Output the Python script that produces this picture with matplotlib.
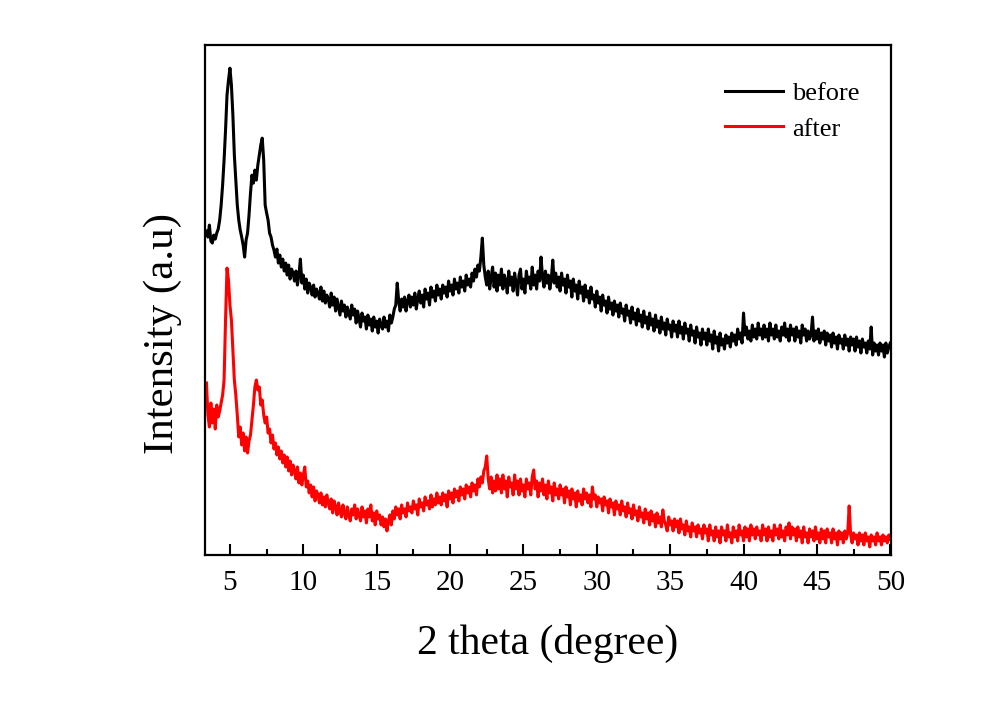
import numpy as np
import matplotlib
matplotlib.use("Agg")
import matplotlib.pyplot as plt

# 2 theta grid: 3.4 .. 50.0 every 0.1 degree (20 values = 2 degrees per row)
start_deg = 3.4
step_deg = 0.1

before = [
    324, 318, 330, 314, 312, 320, 316, 322, 326, 335, 350, 370, 395, 425, 460, 475, 487, 470, 440, 400,  # 3.4
    375, 350, 335, 325, 318, 310, 298, 315, 322, 340, 362, 380, 372, 385, 375, 390, 400, 410, 417, 395,  # 5.4
    350, 342, 335, 322, 318, 310, 305, 298, 306, 292, 300, 288, 296, 284, 292, 280, 290, 276, 286, 282,  # 7.4
    274, 284, 270, 280, 296, 272, 280, 266, 276, 262, 272, 268, 260, 270, 258, 266, 262, 256, 268, 254,  # 9.4
    264, 252, 260, 256, 248, 262, 250, 258, 244, 256, 248, 240, 254, 244, 250, 238, 248, 242, 236, 250,  # 11.4
    240, 246, 232, 244, 236, 228, 242, 234, 238, 226, 240, 230, 236, 224, 238, 228, 234, 222, 236, 230,  # 13.4
    226, 238, 228, 234, 224, 240, 232, 238, 246, 250, 272, 254, 244, 256, 248, 258, 244, 254, 260, 248,  # 15.4
    258, 250, 262, 246, 256, 264, 252, 260, 248, 266, 256, 262, 250, 268, 258, 264, 254, 270, 260, 266,  # 17.4
    256, 270, 262, 268, 258, 274, 264, 270, 260, 276, 266, 272, 262, 278, 268, 274, 264, 280, 270, 276,  # 19.4
    268, 282, 274, 286, 278, 290, 284, 298, 317, 290, 278, 270, 284, 266, 278, 288, 268, 282, 264, 280,  # 21.4
    270, 286, 266, 280, 274, 262, 284, 270, 278, 264, 282, 272, 260, 280, 286, 266, 276, 262, 284, 272,  # 23.4
    278, 266, 288, 270, 280, 266, 284, 274, 298, 278, 268, 284, 272, 280, 266, 276, 295, 272, 282, 268,  # 25.4
    278, 264, 282, 270, 276, 262, 280, 268, 274, 258, 276, 264, 270, 256, 274, 262, 268, 254, 270, 258,  # 27.4
    264, 252, 268, 256, 260, 248, 264, 252, 258, 244, 260, 250, 254, 242, 258, 246, 252, 240, 254, 244,  # 29.4
    250, 238, 252, 242, 246, 234, 250, 240, 244, 232, 248, 236, 242, 230, 246, 234, 240, 228, 244, 232,  # 31.4
    238, 226, 242, 230, 236, 224, 240, 228, 234, 222, 238, 226, 232, 220, 236, 226, 230, 218, 234, 224,  # 33.4
    230, 218, 234, 222, 228, 216, 232, 222, 226, 214, 230, 220, 224, 212, 228, 218, 222, 210, 226, 216,  # 35.4
    222, 210, 226, 214, 220, 206, 224, 212, 218, 204, 222, 210, 216, 206, 220, 212, 218, 208, 222, 214,  # 37.4
    220, 210, 226, 216, 222, 212, 242, 220, 228, 216, 224, 214, 230, 218, 226, 216, 232, 220, 226, 216,  # 39.4
    230, 218, 226, 214, 232, 220, 226, 216, 230, 218, 224, 214, 228, 220, 232, 218, 226, 214, 230, 220,  # 41.4
    226, 214, 228, 218, 224, 212, 230, 220, 226, 214, 224, 216, 220, 238, 214, 224, 216, 226, 212, 222,  # 43.4
    216, 224, 210, 222, 214, 220, 208, 222, 212, 218, 206, 220, 212, 216, 206, 220, 210, 216, 204, 218,  # 45.4
    210, 216, 204, 218, 208, 214, 202, 216, 208, 212, 202, 214, 206, 228, 200, 212, 204, 210, 200, 212,  # 47.4
    204, 210, 198, 212, 202, 208, 212,                                                                  # 49.4
]

after = [
    172, 140, 128, 152, 132, 146, 126, 150, 138, 144, 152, 160, 175, 235, 287, 275, 250, 235, 205, 175,  # 3.4
    160, 140, 118, 128, 110, 122, 104, 118, 102, 114, 120, 135, 150, 168, 175, 165, 168, 150, 155, 140,  # 5.4
    132, 138, 122, 126, 112, 120, 106, 112, 100, 108, 96, 104, 92, 100, 88, 98, 84, 94, 80, 90,          # 7.4
    84, 76, 88, 72, 82, 70, 80, 88, 68, 74, 62, 70, 58, 68, 54, 64, 60, 52, 62, 50,                      # 9.4
    58, 48, 60, 52, 46, 56, 42, 54, 48, 40, 52, 44, 38, 50, 42, 36, 48, 40, 34, 46,                      # 11.4
    40, 50, 36, 46, 40, 34, 48, 38, 44, 32, 46, 38, 50, 34, 42, 30, 44, 36, 40, 30,                      # 13.4
    38, 28, 36, 24, 34, 40, 30, 44, 36, 48, 40, 46, 36, 50, 42, 46, 38, 52, 44, 48,                      # 15.4
    42, 54, 46, 50, 40, 56, 48, 52, 44, 58, 50, 54, 46, 60, 48, 56, 50, 62, 52, 58,                      # 17.4
    50, 62, 54, 60, 48, 64, 56, 62, 52, 66, 58, 64, 54, 68, 60, 66, 56, 70, 62, 68,                      # 19.4
    58, 72, 64, 70, 60, 76, 68, 78, 72, 84, 88, 99, 76, 66, 78, 62, 74, 64, 80, 66,                      # 21.4
    76, 62, 80, 66, 74, 58, 78, 68, 72, 60, 80, 66, 74, 60, 76, 64, 70, 58, 76, 66,                      # 23.4
    72, 60, 78, 85, 66, 74, 58, 72, 64, 76, 60, 70, 56, 74, 62, 68, 54, 72, 60, 66,                      # 25.4
    56, 70, 60, 66, 52, 68, 58, 64, 50, 66, 56, 62, 48, 64, 54, 60, 50, 66, 56, 62,                      # 27.4
    52, 60, 48, 68, 56, 60, 48, 58, 52, 56, 44, 58, 50, 54, 42, 56, 48, 52, 40, 54,                      # 29.4
    46, 50, 40, 54, 44, 48, 38, 52, 42, 46, 36, 50, 40, 44, 34, 48, 38, 42, 32, 46,                      # 31.4
    36, 42, 30, 44, 34, 40, 28, 42, 32, 38, 28, 45, 34, 30, 24, 38, 30, 34, 24, 36,                      # 33.4
    28, 34, 22, 36, 26, 30, 20, 34, 24, 28, 18, 32, 24, 28, 18, 30, 22, 26, 16, 30,                      # 35.4
    22, 26, 14, 30, 20, 24, 14, 28, 18, 24, 12, 28, 20, 24, 14, 30, 18, 22, 12, 28,                      # 37.4
    18, 24, 14, 30, 20, 24, 14, 28, 18, 26, 14, 30, 20, 26, 16, 28, 20, 24, 14, 30,                      # 39.4
    20, 26, 14, 28, 18, 24, 14, 30, 20, 26, 16, 30, 18, 24, 14, 28, 20, 32, 16, 28,                      # 41.4
    20, 26, 14, 28, 18, 24, 12, 28, 18, 22, 12, 26, 18, 24, 14, 28, 16, 22, 12, 26,                      # 43.4
    16, 24, 12, 26, 18, 22, 12, 26, 16, 22, 10, 24, 16, 22, 12, 24, 16, 22, 49, 20,                      # 45.4
    12, 22, 16, 20, 10, 22, 14, 20, 10, 22, 14, 18, 8, 20, 14, 18, 10, 22, 14, 18,                       # 47.4
    10, 20, 14, 18, 12, 20, 16,                                                                          # 49.4
]

x_ticks = [5, 10, 15, 20, 25, 30, 35, 40, 45, 50]


def main():
    plt.rcParams["font.family"] = ["Liberation Serif", "DejaVu Serif"]

    two_theta_b = start_deg + step_deg * np.arange(len(before))
    two_theta_a = start_deg + step_deg * np.arange(len(after))

    fig = plt.figure(figsize=(10, 7.06), dpi=100)
    ax = fig.add_axes([0.205, 0.214, 0.686, 0.722])

    ax.plot(two_theta_b, before, color="black", lw=2.2, label="before")
    ax.plot(two_theta_a, after, color="#ff0000", lw=2.2, label="after")

    ax.set_xlim(3.3, 50.05)
    ax.set_ylim(0, 510)
    ax.set_xticks(x_ticks)
    ax.set_xticks(np.arange(7.5, 50, 5), minor=True)
    ax.set_yticks([])

    ax.tick_params(axis="x", which="major", direction="in", length=8, width=1.5,
                   labelsize=21, pad=11)
    ax.tick_params(axis="x", which="minor", direction="in", length=4, width=1.5)
    for sp in ax.spines.values():
        sp.set_linewidth(1.6)

    ax.set_xlabel("2 theta (degree)", fontsize=30, labelpad=20)
    ax.set_ylabel("Intensity (a.u)", fontsize=31)
    ax.yaxis.set_label_coords(-0.034, 0.435)

    fig.legend(loc="upper left", bbox_to_anchor=(0.725, 0.884), frameon=False,
               fontsize=19, handlelength=2.2, handletextpad=0.35,
               labelspacing=0.45, borderpad=0, borderaxespad=0)

    fig.savefig("out.png", dpi=100)


if __name__ == "__main__":
    main()
